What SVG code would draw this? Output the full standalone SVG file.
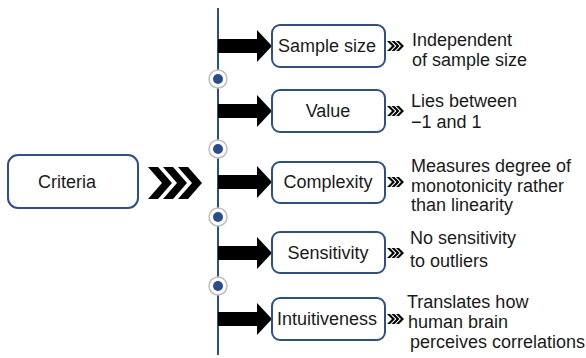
<svg xmlns="http://www.w3.org/2000/svg" width="586" height="358" viewBox="0 0 586 358">
<defs>
<style>
.box{fill:#fff;stroke:#2c4f91;stroke-width:2}
.lbl{font-family:"Liberation Sans",Arial,sans-serif;font-size:18px;fill:#1a1a1a;text-anchor:middle;dominant-baseline:central}
.desc{font-family:"Liberation Sans",Arial,sans-serif;font-size:18px;fill:#1a1a1a}
.arrow{fill:#000}
.ring{fill:#fff;stroke:#bfbfbf;stroke-width:1.5}
.dot{fill:#2a4d8f}
</style>
<g id="sch">
<polygon points="0,-5 3,-5 8,0 3,5 0,5 5,0"/>
</g>
<g id="bigch">
<polygon points="0,-16 10,-16 24,0 10,16 0,16 14,0"/>
</g>
<g id="arr">
<polygon points="0,-7 39,-7 39,-16 54,0 39,16 39,7 0,7"/>
</g>
</defs>
<g id="connectors">
<line x1="218" y1="8" x2="218" y2="355" stroke="#2c4f91" stroke-width="2"/>
<g class="arrow">
<use href="#arr" x="218" y="46"/>
<use href="#arr" x="218" y="111"/>
<use href="#arr" x="218" y="182"/>
<use href="#arr" x="218" y="253"/>
<use href="#arr" x="218" y="319"/>
</g>
<g fill="#000">
<use href="#bigch" x="148" y="183"/>
<use href="#bigch" x="163" y="183"/>
<use href="#bigch" x="178" y="183"/>
</g>
<g fill="#000">
<use href="#sch" x="387" y="46"/><use href="#sch" x="391.5" y="46"/><use href="#sch" x="396" y="46"/>
<use href="#sch" x="387" y="111"/><use href="#sch" x="391.5" y="111"/><use href="#sch" x="396" y="111"/>
<use href="#sch" x="387" y="182"/><use href="#sch" x="391.5" y="182"/><use href="#sch" x="396" y="182"/>
<use href="#sch" x="387" y="253"/><use href="#sch" x="391.5" y="253"/><use href="#sch" x="396" y="253"/>
<use href="#sch" x="387" y="319"/><use href="#sch" x="391.5" y="319"/><use href="#sch" x="396" y="319"/>
</g>
<g>
<circle class="ring" cx="218" cy="79" r="9"/><circle class="dot" cx="218" cy="79" r="5"/>
<circle class="ring" cx="218" cy="149" r="9"/><circle class="dot" cx="218" cy="149" r="5"/>
<circle class="ring" cx="218" cy="217" r="9"/><circle class="dot" cx="218" cy="217" r="5"/>
<circle class="ring" cx="218" cy="286" r="9"/><circle class="dot" cx="218" cy="286" r="5"/>
</g>
</g>
<g id="criteria">
<rect class="box" x="8" y="155" width="130" height="53" rx="10"/>
<text class="lbl" x="67" y="182">Criteria</text>
</g>
<g id="sample-size">
<rect class="box" x="272" y="25" width="113" height="42" rx="8"/>
<text class="lbl" x="327" y="46">Sample size</text>
<text class="desc" x="412" y="46">Independent</text>
<text class="desc" x="412" y="66">of sample size</text>
</g>
<g id="value">
<rect class="box" x="272" y="90" width="113" height="42" rx="8"/>
<text class="lbl" x="328" y="111">Value</text>
<text class="desc" x="411" y="107">Lies between</text>
<text class="desc" x="411" y="128">−1 and 1</text>
</g>
<g id="complexity">
<rect class="box" x="272" y="162" width="113" height="41" rx="8"/>
<text class="lbl" x="328" y="182">Complexity</text>
<text class="desc" x="411" y="172">Measures degree of</text>
<text class="desc" x="411" y="192">monotonicity rather</text>
<text class="desc" x="411" y="211">than linearity</text>
</g>
<g id="sensitivity">
<rect class="box" x="272" y="232" width="113" height="41" rx="8"/>
<text class="lbl" x="328" y="253">Sensitivity</text>
<text class="desc" x="410" y="244">No sensitivity</text>
<text class="desc" x="410" y="267">to outliers</text>
</g>
<g id="intuitiveness">
<rect class="box" x="272" y="298" width="113" height="42" rx="8"/>
<text class="lbl" x="327" y="319">Intuitiveness</text>
<text class="desc" x="407" y="308">Translates how</text>
<text class="desc" x="408" y="328">human brain</text>
<text class="desc" x="410" y="348">perceives correlations</text>
</g>
</svg>
